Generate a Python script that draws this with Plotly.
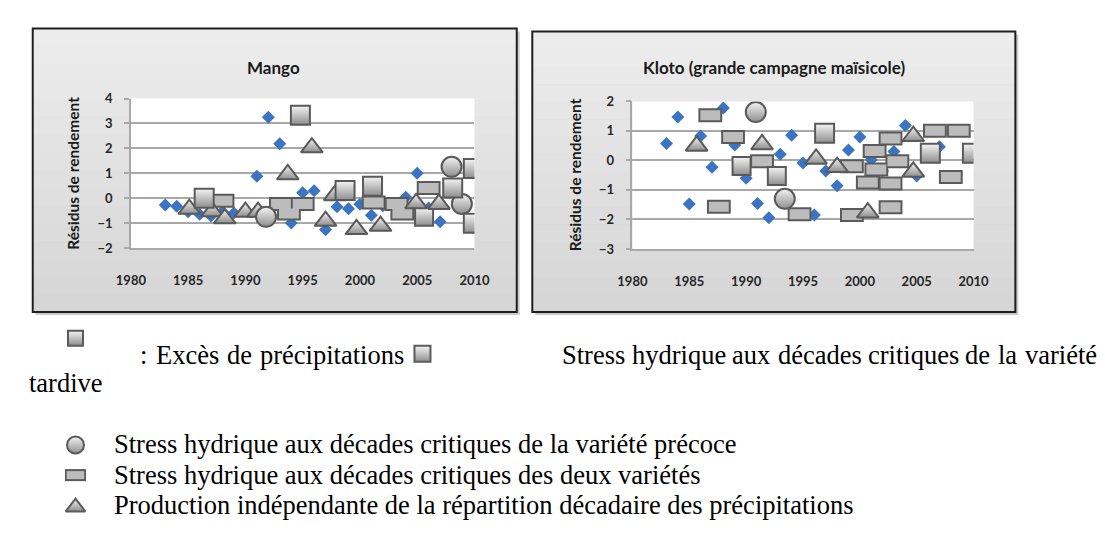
import plotly.graph_objects as go

W, H = 1105, 545

# ---------------- data : Mango ----------------
mango_years = [1983, 1984, 1985, 1986, 1987, 1988, 1989, 1990, 1991, 1992, 1993, 1994, 1995,
               1996, 1997, 1998, 1999, 2000, 2001, 2002, 2003, 2004, 2005, 2006, 2007]
mango_resid = [-0.27, -0.33, -0.55, -0.65, -0.72, -0.55, -0.6, -0.5, 0.88, 3.25, 2.18, -1.0, 0.22,
               0.3, -1.27, -0.35, -0.43, -0.24, -0.69, -0.3, -0.25, 0.04, 1.0, -0.4, -0.95]

mango_square_x = [1986.4, 1994.8, 1998.7, 2001.1, 2008.1, 2009.9, 2009.9]
mango_square_y = [0.0, 3.33, 0.31, 0.48, 0.41, 1.19, -1.01]
mango_triangle_x = [1985.1, 1987.1, 1988.2, 1990.0, 1991.1, 1993.7, 1995.8, 1997.0, 1997.8,
                    1999.7, 2001.8, 2004.9, 2006.9]
mango_triangle_y = [-0.44, -0.54, -0.82, -0.56, -0.56, 0.95, 2.03, -0.92, 0.11,
                    -1.25, -1.12, -0.21, -0.24]
mango_circle_x = [1991.8, 2008.0, 2008.9]
mango_circle_y = [-0.75, 1.26, -0.23]
mango_rect_x = [1988.0, 1993.1, 1993.8, 1995.0, 2001.2, 2003.2, 2003.7, 2006.0]
mango_rect_y = [-0.1, -0.23, -0.62, -0.23, -0.17, -0.23, -0.62, 0.41]
mango_para_x = [2005.6]
mango_para_y = [-0.75]

# ---------------- data : Kloto ----------------
kloto_years = [1983, 1984, 1985, 1986, 1987, 1988, 1989, 1990, 1991, 1992, 1993, 1994, 1995,
               1996, 1997, 1998, 1999, 2000, 2001, 2002, 2003, 2004, 2005, 2006, 2007]
kloto_resid = [0.57, 1.47, -1.48, 0.83, -0.23, 1.78, 0.52, -0.6, -1.46, -1.94, 0.21, 0.85, -0.09,
               -1.85, -0.36, -0.86, 0.35, 0.79, 0.02, -0.36, 0.3, 1.18, -0.53, 0.24, 0.46]

kloto_rect_x = [1986.85, 1988.85, 1991.4, 1987.6, 1994.7, 1999.3, 2001.45, 2003.3, 2000.7,
                2002.7, 2001.3, 2002.7, 1999.3, 2002.7, 2006.6, 2008.7, 2008.0]
kloto_rect_y = [1.53, 0.79, -0.03, -1.57, -1.82, -0.2, -0.31, -0.03, -0.75,
                -0.78, 0.32, 0.74, -1.85, -1.59, 1.01, 1.01, -0.56]
kloto_square_x = [1996.9, 2006.2, 2009.9]
kloto_square_y = [0.92, 0.24, 0.24]
kloto_circle_x = [1990.85, 1993.4]
kloto_circle_y = [1.64, -1.3]
kloto_para_x = [1989.6, 1992.7]
kloto_para_y = [-0.19, -0.53]
kloto_triangle_x = [1985.65, 1991.4, 1996.15, 1998.0, 2000.7, 2004.7, 2004.7]
kloto_triangle_y = [0.49, 0.54, 0.05, -0.23, -1.77, 0.82, -0.39]

# ---------------- text ----------------
title_left = "Mango"
title_right = "Kloto (grande campagne maïsicole)"
y_title = "Résidus de rendement"
x_ticks = [1980, 1985, 1990, 1995, 2000, 2005, 2010]
leg_line1_words = [":", "Excès", "de", "précipitations"]
leg_line1b_words = ["Stress", "hydrique", "aux", "décades", "critiques", "de", "la", "variété"]
leg_tardive_c = "tardive"
leg_precoce = "Stress hydrique aux décades critiques de la variété précoce"
leg_deux = "Stress hydrique aux décades critiques des deux variétés"
leg_indep = "Production indépendante de la répartition décadaire des précipitations"


def px(x):
    return x / W


def py(y):
    return 1 - y / H


BLUE = "#3b74c2"
EDGE = "#5a5a5a"
FILL_TOP = "#f4f4f4"
FILL_BOT = "#8e8e8e"
GRID = "#a8a8a8"
LEG_SIZE = 26.5

# Times / Liberation Serif advance widths (per 1000 em), used to justify the first legend line
TIMES_W = {"S": 556, "t": 278, "r": 333, "e": 444, "s": 389, "h": 500, "y": 500, "d": 500,
           "i": 278, "q": 500, "u": 500, "a": 444, "x": 500, "é": 444, "è": 444, "c": 444,
           "p": 500, "l": 278, "v": 500, "E": 611, "o": 500, "n": 500, ":": 278}


def word_w(w):
    return sum(TIMES_W.get(ch, 500) for ch in w) * LEG_SIZE / 1000.0


def justify(words, x0, x1):
    total = sum(word_w(w) for w in words)
    gap = (x1 - x0 - total) / (len(words) - 1)
    out, x = [], x0
    for w in words:
        out.append((w, x))
        x += word_w(w) + gap
    return out


def shaded(symbol, size):
    return dict(symbol=symbol, size=size, color=FILL_TOP,
                gradient=dict(type="vertical", color=FILL_BOT),
                line=dict(color=EDGE, width=2))


fig = go.Figure()


def add_chart(xa, ya, yrs, res, rx, ry, pxx, pyy, trx, tryy, cx, cy, sx, sy):
    common = dict(xaxis=xa, yaxis=ya, mode="markers", showlegend=False, hoverinfo="skip")
    fig.add_trace(go.Scatter(x=yrs, y=res, marker=dict(symbol="diamond", size=10, color=BLUE,
                                                        line=dict(width=0)), **common))
    fig.add_trace(go.Scatter(x=rx, y=ry, marker=dict(symbol="line-ew", size=17, color=EDGE,
                                                      line=dict(color=EDGE, width=14)), **common))
    fig.add_trace(go.Scatter(x=rx, y=ry, marker=dict(symbol="line-ew", size=14.2, color="#bcbcbc",
                                                      line=dict(color="#bcbcbc", width=10)), **common))
    fig.add_trace(go.Scatter(x=pxx, y=pyy, marker=shaded("square", 18), **common))
    fig.add_trace(go.Scatter(x=trx, y=tryy, marker=shaded("triangle-up", 19), **common))
    fig.add_trace(go.Scatter(x=cx, y=cy, marker=shaded("circle", 20), **common))
    fig.add_trace(go.Scatter(x=sx, y=sy, marker=shaded("square", 19), **common))


add_chart("x", "y", mango_years, mango_resid, mango_rect_x, mango_rect_y, mango_para_x, mango_para_y,
          mango_triangle_x, mango_triangle_y, mango_circle_x, mango_circle_y,
          mango_square_x, mango_square_y)
add_chart("x2", "y2", kloto_years, kloto_resid, kloto_rect_x, kloto_rect_y, kloto_para_x, kloto_para_y,
          kloto_triangle_x, kloto_triangle_y, kloto_circle_x, kloto_circle_y,
          kloto_square_x, kloto_square_y)

# ---------------- legend icons (layout overlay axis in pixel units) ----------------
legend_icons = [
    ("square", 15, 54, 332),
    ("square", 16, 411, 348),
    ("circle", 17, 54, 442),
    ("triangle-up", 17, 54, 506),
]
for sym, sz, ix, iy in legend_icons:
    fig.add_trace(go.Scatter(x=[ix], y=[iy], xaxis="x3", yaxis="y3", mode="markers",
                             showlegend=False, hoverinfo="skip", marker=shaded(sym, sz)))
fig.add_trace(go.Scatter(x=[54], y=[473], xaxis="x3", yaxis="y3", mode="markers", showlegend=False,
                         hoverinfo="skip", marker=dict(symbol="line-ew", size=15, color=EDGE,
                                                       line=dict(color=EDGE, width=12))))
fig.add_trace(go.Scatter(x=[54], y=[473], xaxis="x3", yaxis="y3", mode="markers", showlegend=False,
                         hoverinfo="skip", marker=dict(symbol="line-ew", size=12.5, color="#bcbcbc",
                                                       line=dict(color="#bcbcbc", width=8))))

tickfont = dict(family="Lato", size=13, color="#262626", weight="bold")

xcommon = dict(range=[1980, 2010], tickmode="array", tickvals=x_ticks, ticktext=[str(t) for t in x_ticks],
               showgrid=False, showline=True, linecolor=GRID, linewidth=1.5, ticks="",
               ticklabelstandoff=20, tickfont=tickfont, zeroline=False, fixedrange=True)
ycommon = dict(dtick=1, showgrid=True, gridcolor=GRID, gridwidth=1.5, showline=True, linecolor=GRID,
               linewidth=1.5, ticks="outside", ticklen=5, tickcolor=GRID, tickwidth=1.5,
               ticklabelstandoff=9, tickfont=tickfont, zeroline=False, fixedrange=True)

shapes = []
N_BANDS = 16
for (x0, y0, x1, y1) in [(10, 13, 508, 305), (524, 16, 1021, 305)]:
    shapes.append(dict(type="rect", xref="paper", yref="paper", x0=px(x0 + 3), x1=px(x1 + 3),
                       y0=py(y1 + 3), y1=py(y0 + 3), fillcolor="#cbcbcb", line=dict(width=0),
                       layer="below"))
    # vertical gradient background made of bands
    for i in range(N_BANDS):
        t = i / (N_BANDS - 1)
        g = int(round(236 - t * (236 - 214)))
        ya = y0 + (y1 - y0) * i / N_BANDS
        yb = y0 + (y1 - y0) * (i + 1) / N_BANDS + 0.5
        shapes.append(dict(type="rect", xref="paper", yref="paper", x0=px(x0), x1=px(x1),
                           y0=py(yb), y1=py(ya), fillcolor="rgb(%d,%d,%d)" % (g, g, g),
                           line=dict(width=0), layer="below"))
    shapes.append(dict(type="rect", xref="paper", yref="paper", x0=px(x0), x1=px(x1),
                       y0=py(y1), y1=py(y0), fillcolor="rgba(0,0,0,0)",
                       line=dict(color="#1e1e1e", width=2), layer="below"))
for xr, yr in [("x", "y"), ("x2", "y2")]:
    shapes.append(dict(type="rect", xref=xr + " domain", yref=yr + " domain", x0=0, x1=1, y0=0, y1=1,
                       fillcolor="white", line=dict(width=0), layer="below"))

calib = dict(family="Lato", color="#1a1a1a", weight="bold")
serif = dict(family="Liberation Serif", size=LEG_SIZE, color="black")

LINE1_Y = 349
annotations = [
    dict(text=title_left, x=px(258), y=py(53), font=dict(size=17, **calib)),
    dict(text=title_right, x=px(773), y=py(53), font=dict(size=17, **calib)),
    dict(text=y_title, x=px(52), y=py(162), textangle=-90, font=dict(size=15.5, **calib)),
    dict(text=y_title, x=px(568), y=py(164), textangle=-90, font=dict(size=15.5, **calib)),
    dict(text=leg_tardive_c, x=px(4), y=py(378), xanchor="left", font=serif),
    dict(text=leg_precoce, x=px(92), y=py(441), xanchor="left", font=serif),
    dict(text=leg_deux, x=px(92), y=py(473), xanchor="left", font=serif),
    dict(text=leg_indep, x=px(92), y=py(504), xanchor="left", font=serif),
]
for w, xw in justify(leg_line1_words, 118, 386) + justify(leg_line1b_words, 552, 1101):
    annotations.append(dict(text=w, x=px(xw), y=py(LINE1_Y), xanchor="left", font=serif))
for a in annotations:
    a.update(xref="paper", yref="paper", showarrow=False)
    a.setdefault("xanchor", "center")
    a.setdefault("yanchor", "middle")

fig.update_layout(
    width=W, height=H, margin=dict(l=0, r=0, t=0, b=0),
    paper_bgcolor="white", plot_bgcolor="rgba(0,0,0,0)",
    xaxis=dict(domain=[px(111), px(464.5)], anchor="y", **xcommon),
    yaxis=dict(domain=[py(239), py(85)], anchor="x", range=[-2, 4], **ycommon),
    xaxis2=dict(domain=[px(627), px(978)], anchor="y2", **xcommon),
    yaxis2=dict(domain=[py(240), py(88)], anchor="x2", range=[-3, 2], **ycommon),
    xaxis3=dict(domain=[0, 1], range=[0, W], visible=False, anchor="y3", fixedrange=True),
    yaxis3=dict(domain=[0, 1], range=[H, 0], visible=False, anchor="x3", fixedrange=True),
    shapes=shapes, annotations=annotations,
)

fig.write_html("out.html")
